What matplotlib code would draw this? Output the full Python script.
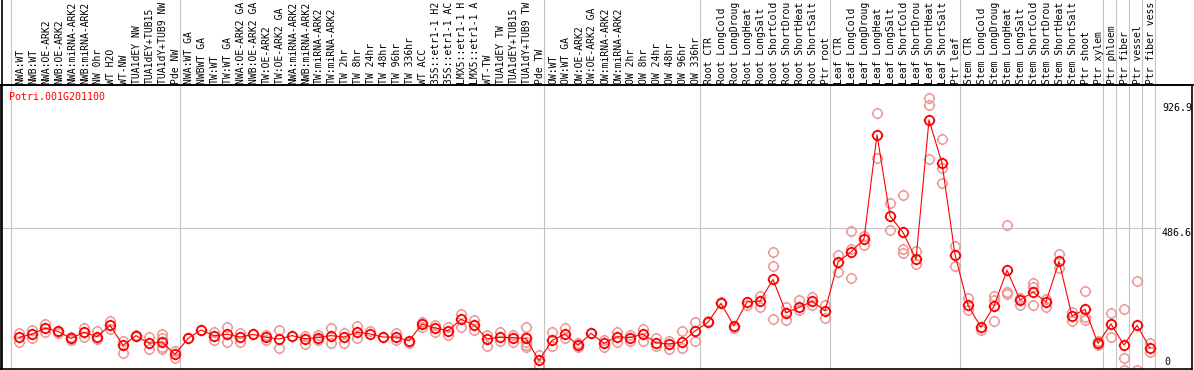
import matplotlib
matplotlib.use('Agg')
import matplotlib.pyplot as plt
from matplotlib.path import Path
from matplotlib.lines import Line2D
from matplotlib.transforms import blended_transform_factory

# gene shown in the panel
gene = 'Potri.001G201100'

# sample names, cut to 14 characters like the browser does
labels = [
    'NWA:WT', 'NWB:WT', 'NWA:OE-ARK2', 'NWB:OE-ARK2', 'NWA:miRNA-ARK2', 'NWB:miRNA-ARK2',
    'NW 0hr', 'WT H2O', 'WT-NW', 'TUA1dEY NW', 'TUA1dEY+TUB15', 'TUA1dY+TUB9 NW', 'Pde NW',
    'NWA:WT GA', 'NWBWT GA', 'TW:WT', 'TW:WT GA', 'NWA:OE-ARK2 GA', 'NWB:OE-ARK2 GA',
    'TW:OE-ARK2', 'TW:OE-ARK2 GA', 'NWA:miRNA-ARK2', 'NWB:miRNA-ARK2', 'TW:miRNA-ARK2',
    'TW:miRNA-ARK2', 'TW 2hr', 'TW 8hr', 'TW 24hr', 'TW 48hr', 'TW 96hr', 'TW 336hr',
    'WT ACC', '35S::etr1-1 H2', '35S::etr1-1 AC', 'LMX5::etr1-1 H', 'LMX5::etr1-1 A',
    'WT-TW', 'TUA1dEY TW', 'TUA1dEY+TUB15', 'TUA1dY+TUB9 TW', 'Pde TW',
    'OW:WT', 'OW:WT GA', 'OW:OE-ARK2', 'OW:OE-ARK2 GA', 'OW:miRNA-ARK2', 'OW:miRNA-ARK2',
    'OW 2hr', 'OW 8hr', 'OW 24hr', 'OW 48hr', 'OW 96hr', 'OW 336hr',
    'Root CTR', 'Root LongCold', 'Root LongDroug', 'Root LongHeat', 'Root LongSalt',
    'Root ShortCold', 'Root ShortDrou', 'Root ShortHeat', 'Root ShortSalt', 'Ptr root',
    'Leaf CTR', 'Leaf LongCold', 'Leaf LongDroug', 'Leaf LongHeat', 'Leaf LongSalt',
    'Leaf ShortCold', 'Leaf ShortDrou', 'Leaf ShortHeat', 'Leaf ShortSalt', 'Ptr leaf',
    'Stem CTR', 'Stem LongCold', 'Stem LongDroug', 'Stem LongHeat', 'Stem LongSalt',
    'Stem ShortCold', 'Stem ShortDrou', 'Stem ShortHeat', 'Stem ShortSalt', 'Ptr shoot',
    'Ptr xylem', 'Ptr phloem', 'Ptr fiber', 'Ptr vessel', 'Ptr fiber vess',
]

means = [
    104, 115, 136, 125, 100, 122, 106, 146, 76, 110, 83, 88, 44,
    100, 130, 109, 115, 105, 114, 104, 98, 110, 99, 103, 110, 105, 122, 116, 105, 105,
    92, 150, 137, 127, 167, 147, 99, 104, 103, 100, 23,
    93, 115, 76, 118, 83, 106, 103, 115, 85, 81, 87, 126,
    157, 223, 144, 228, 231, 307, 190, 209, 230, 197,
    368, 403, 449, 814, 529, 472, 377, 866, 714, 394,
    216, 139, 214, 339, 235, 263, 228, 370, 179, 202,
    83, 151, 77, 146, 66,
]

reps = [
    [120, 88], [130, 100], [150, 124], [127, 120], [104, 95], [138, 106], [127, 99],
    [160, 132], [92, 48], [112, 108], [106, 64], [116, 100, 71, 62], [57, 30],
    [100], [130], [124, 95], [139, 89], [118, 86], [114], [112, 95], [130, 65], [109],
    [109, 81], [112, 95], [135, 83], [120, 85], [144, 103], [127], [105], [118, 95],
    [83], [159, 139], [147, 124], [139, 112], [186, 141], [165, 130], [112, 75],
    [124, 92], [112, 89], [139, 106, 89, 77, 69], [42, 4],
    [121, 74], [138, 100], [83, 71], [118], [95, 69], [124, 89], [112, 92], [133, 92],
    [100, 74], [92, 62], [127, 68], [157, 92],
    [161], [229], [135], [217], [249, 211], [402, 354, 167], [209, 165], [235, 200],
    [244, 217], [217, 171],
    [393, 334], [477, 414, 311], [460, 428], [889, 731], [574, 480], [602, 412, 398],
    [407, 361], [943, 917, 728], [798, 699, 644], [424, 354],
    [241, 200], [130], [249, 235, 161], [498, 264, 256], [241, 217], [293, 282, 217],
    [238, 211], [395, 346], [194, 162], [265, 176, 165],
    [92, 77], [188, 106], [202, 33, -10], [300, -10], [83, 54],
]

# first column of each block (grey separators)
breaks = [0, 13, 41, 53, 63, 73, 84, 85, 86, 87, 88]
ytick_vals = [926.9, 486.6]

W, H = 1194, 370
fig = plt.figure(figsize=(W / 100, H / 100), dpi=100)
ax = fig.add_axes([1 / W, 1 / H, 1191 / W, 284 / H])
ax.set_xlim(-1.385, 90.23)
ax.set_ylim(-7, 988.4)
ax.set_xticks([])
ax.set_yticks([])
for s in ax.spines.values():
    s.set_linewidth(1.2)
    s.set_color('black')

mono = 'DejaVu Sans Mono'
fs = 7.2

# circle with little ticks, like the old eFP glyph
ring = Path.unit_circle()
ticks = Path([(0, 1), (0, 1.25), (0, -1), (0, -1.25), (1, 0), (1.25, 0), (-1, 0), (-1.25, 0)],
             [Path.MOVETO, Path.LINETO] * 4)
glyph = Path.make_compound_path(ring, ticks)

xs = list(range(len(means)))

# separators
trans_v = blended_transform_factory(ax.transData, fig.transFigure)
for b in breaks:
    ax.plot([b - 0.64, b - 0.64], [0, 1], color='#c4c4c4', lw=0.8,
            transform=trans_v, clip_on=False, zorder=1)
ax.axhline(486.6, xmin=0, xmax=0.973, color='#c4c4c4', lw=0.8, zorder=1)

for x, r in zip(xs, reps):
    ax.plot([x] * len(r), r, linestyle='none', marker=glyph, ms=8.3,
            mfc='none', mec='#ec9a9a', mew=1.1, zorder=2)

ax.plot(xs, means, color='red', lw=0.8, zorder=3)
ax.plot(xs, means, linestyle='none', marker=glyph, ms=8.3,
        mfc='none', mec='red', mew=1.3, zorder=4)

# column labels above the frame
for x, lab in zip(xs, labels):
    ax.text(x + 0.08, 1 - 84 / H, lab, transform=trans_v, rotation=90,
            ha='center', va='bottom', fontsize=7.0, family=mono, clip_on=False)

ax.text(9 / W, 1 - 96.5 / H, gene, transform=fig.transFigure, color='red',
        ha='left', va='center', fontsize=fs, family=mono)

trans_y = blended_transform_factory(fig.transFigure, ax.transData)
for v in ytick_vals:
    ax.text(1162 / W, v, f'{v:.1f}', transform=trans_y, ha='left', va='top',
            fontsize=fs, family=mono, clip_on=False)
ax.text(1164 / W, 1 - 362 / H, '0', transform=fig.transFigure, ha='left', va='center',
        fontsize=fs, family=mono)

# frame lines that run past the plot box
fig.add_artist(Line2D([0, 1], [1 - 85 / H] * 2, color='black', lw=1.2))
fig.add_artist(Line2D([1.5 / W] * 2, [0, 1], color='black', lw=1.2))

fig.savefig('out.png', dpi=100)
